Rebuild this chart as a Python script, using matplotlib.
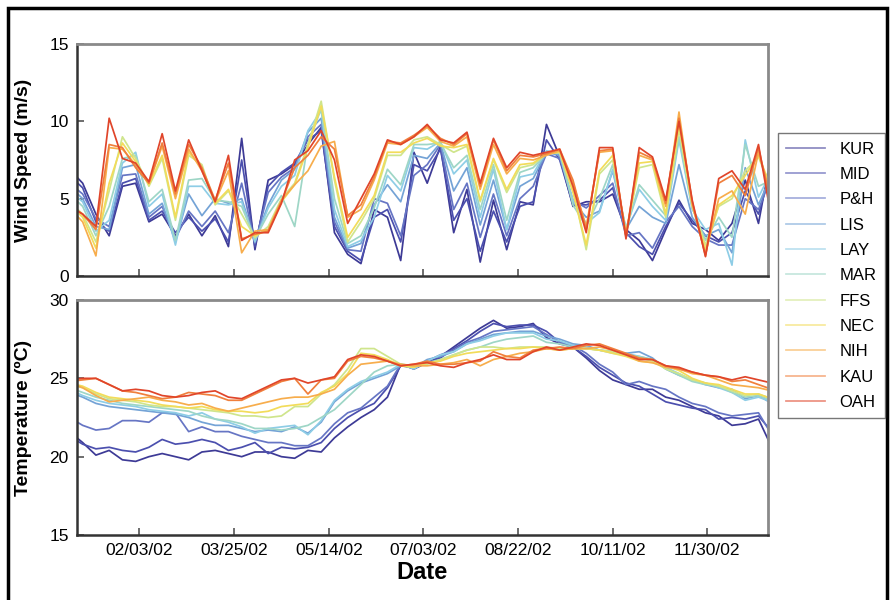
import numpy as np
import pandas as pd
import matplotlib
matplotlib.use("Agg")
import matplotlib.pyplot as plt
import matplotlib.dates as mdates
from matplotlib.patches import Rectangle

plt.rcParams['font.family'] = ['Liberation Sans', 'DejaVu Sans']

# weekly samples, Dec 28 2001 .. Jan 3 2003
dates = pd.date_range('2001-12-28', periods=54, freq='7D')

stations = ['KUR', 'MID', 'P&H', 'LIS', 'LAY', 'MAR', 'FFS', 'NEC', 'NIH', 'KAU', 'OAH']
colors = ['#3d3a96', '#4b4fae', '#6675c4', '#74a3d6', '#8ecde6', '#9ed6c6',
          '#cfe58c', '#f2dc5a', '#f7ad4c', '#f07f3c', '#e0452a']

# wind speed (m/s)
kur_wind = [6.9, 6.0, 4.0, 2.6, 5.8, 6.0, 3.5, 4.0, 2.6, 4.0, 2.6, 3.9, 1.9, 8.9, 1.7, 6.2, 6.6, 7.2, 8.5, 9.6, 2.8, 1.4, 0.8, 4.3, 3.8, 1.0, 8.0, 6.0, 8.4, 2.8, 5.6, 0.9, 4.9, 1.7, 4.8, 4.6, 9.8, 7.7, 4.5, 4.8, 4.8, 5.3, 3.0, 2.3, 1.0, 3.0, 4.9, 3.4, 3.0, 2.3, 3.4, 6.2, 3.4, 8.0]
mid_wind = [6.5, 5.7, 3.5, 2.9, 6.0, 6.3, 3.6, 4.2, 2.8, 3.8, 2.9, 3.7, 2.2, 7.5, 1.9, 5.8, 6.7, 7.3, 8.8, 9.4, 3.2, 1.6, 1.0, 3.8, 4.3, 2.2, 7.2, 6.8, 8.2, 3.6, 5.0, 1.6, 4.2, 2.2, 4.5, 4.8, 8.8, 7.5, 4.6, 4.6, 4.9, 5.7, 2.8, 1.9, 1.4, 3.2, 4.7, 3.6, 2.6, 2.2, 2.8, 5.5, 4.0, 7.0]
ph_wind = [6.0, 5.3, 3.7, 3.2, 6.5, 6.6, 3.8, 4.5, 2.4, 4.2, 3.2, 4.2, 2.8, 6.0, 2.1, 5.4, 6.4, 7.0, 9.0, 9.8, 3.5, 1.7, 1.6, 5.0, 4.7, 2.6, 6.5, 7.2, 8.5, 4.3, 6.0, 2.5, 5.3, 2.6, 5.0, 5.8, 7.9, 7.6, 4.9, 4.4, 5.2, 6.0, 2.6, 2.8, 1.8, 3.5, 4.5, 3.2, 2.4, 2.0, 2.0, 5.0, 4.3, 6.5]
lis_wind = [5.8, 5.0, 3.2, 3.0, 7.0, 7.2, 4.0, 4.7, 2.2, 5.3, 3.9, 5.0, 4.7, 5.0, 2.3, 4.6, 6.2, 6.9, 9.3, 10.2, 3.8, 1.8, 2.1, 4.6, 5.9, 4.8, 7.8, 7.6, 8.6, 5.5, 7.0, 3.3, 6.2, 3.0, 5.8, 6.3, 8.0, 7.8, 4.8, 3.8, 4.2, 6.8, 3.0, 4.5, 3.8, 3.4, 7.2, 3.8, 2.6, 3.0, 1.5, 7.0, 4.6, 6.6]
lay_wind = [5.5, 4.8, 2.9, 3.6, 7.3, 8.0, 4.5, 5.3, 2.0, 5.8, 5.8, 4.7, 4.6, 4.8, 2.2, 4.4, 5.8, 6.5, 9.4, 10.7, 4.3, 1.9, 2.3, 3.8, 6.5, 5.5, 8.3, 8.2, 8.7, 6.6, 7.5, 3.8, 6.9, 3.0, 6.4, 6.6, 8.1, 7.9, 4.9, 3.4, 4.1, 6.9, 3.1, 5.6, 4.5, 3.6, 8.8, 4.3, 3.0, 3.4, 0.7, 8.8, 5.1, 6.8]
mar_wind = [5.3, 4.5, 2.6, 4.5, 7.6, 7.8, 4.8, 5.6, 2.3, 6.2, 6.3, 4.9, 4.8, 4.5, 2.4, 4.0, 5.2, 3.2, 8.6, 10.8, 5.0, 2.1, 2.6, 4.4, 6.9, 5.9, 8.5, 8.5, 8.6, 7.0, 7.8, 4.3, 7.2, 3.6, 6.7, 7.0, 7.9, 8.0, 4.6, 3.2, 5.0, 7.2, 3.0, 5.9, 4.9, 3.9, 9.0, 4.4, 2.3, 3.8, 2.5, 8.5, 5.8, 6.2]
ffs_wind = [4.8, 4.0, 2.2, 5.5, 9.0, 7.6, 5.8, 7.6, 3.6, 7.8, 7.2, 4.6, 5.5, 4.0, 2.5, 3.2, 5.0, 6.0, 8.5, 11.3, 6.2, 2.2, 3.5, 5.0, 7.8, 7.8, 8.8, 9.0, 8.5, 8.0, 8.4, 4.8, 7.5, 5.4, 7.0, 7.2, 7.9, 8.0, 5.6, 1.7, 6.6, 7.5, 2.8, 7.0, 7.2, 3.8, 9.5, 4.5, 2.0, 4.5, 5.0, 6.8, 7.7, 5.5]
nec_wind = [4.6, 3.8, 1.8, 6.0, 8.6, 7.4, 5.9, 7.8, 3.8, 8.0, 7.0, 4.7, 5.6, 3.2, 2.6, 3.0, 4.8, 5.9, 8.3, 11.0, 6.4, 2.5, 3.8, 5.2, 8.0, 8.0, 8.6, 8.9, 8.4, 8.3, 8.5, 4.9, 7.6, 5.6, 7.2, 7.3, 7.9, 8.0, 5.4, 2.0, 6.8, 7.8, 2.7, 7.3, 7.4, 4.0, 9.8, 4.6, 1.7, 4.6, 5.2, 6.5, 7.8, 5.6]
nih_wind = [4.4, 3.5, 1.3, 8.3, 8.2, 7.2, 6.0, 8.4, 5.0, 8.2, 6.8, 4.8, 6.8, 1.5, 2.9, 3.0, 4.9, 5.9, 6.8, 8.4, 8.7, 3.8, 4.3, 6.2, 8.6, 8.5, 9.0, 9.6, 8.7, 8.4, 9.0, 5.6, 8.5, 6.6, 7.6, 7.5, 7.8, 8.1, 6.0, 3.2, 8.0, 8.1, 2.5, 7.8, 7.5, 4.5, 10.6, 4.6, 1.4, 5.0, 5.5, 4.0, 8.0, 5.0]
kau_wind = [4.6, 4.0, 3.0, 8.5, 8.3, 7.0, 6.0, 8.6, 5.3, 8.5, 7.0, 4.9, 7.3, 2.4, 2.7, 2.9, 4.8, 7.0, 7.8, 9.0, 8.2, 3.9, 4.6, 6.4, 8.7, 8.6, 9.1, 9.7, 8.9, 8.5, 9.2, 5.8, 8.8, 6.8, 7.8, 7.7, 7.9, 8.2, 6.2, 3.0, 8.1, 8.2, 2.6, 8.0, 7.6, 4.7, 10.2, 4.8, 1.3, 6.0, 6.5, 5.2, 8.3, 4.5]
oah_wind = [4.5, 4.0, 3.2, 10.2, 7.6, 7.3, 6.1, 9.2, 5.5, 8.8, 6.8, 4.8, 7.8, 2.3, 2.8, 2.8, 4.7, 7.5, 8.1, 9.4, 7.5, 3.4, 5.0, 6.6, 8.8, 8.5, 9.0, 9.8, 8.8, 8.6, 9.3, 6.0, 8.9, 7.0, 8.0, 7.8, 8.0, 8.2, 5.8, 2.8, 8.3, 8.3, 2.4, 8.3, 7.7, 4.9, 10.0, 4.9, 1.25, 6.3, 6.8, 5.6, 8.5, 3.6]

# temperature (deg C)
kur_temp = [21.6, 20.9, 20.1, 20.4, 19.8, 19.7, 20.0, 20.2, 20.0, 19.8, 20.3, 20.4, 20.2, 20.0, 20.3, 20.3, 20.0, 19.9, 20.4, 20.3, 21.2, 21.9, 22.5, 23.0, 23.8, 25.9, 25.6, 26.0, 26.4, 27.0, 27.6, 28.2, 28.7, 28.2, 28.3, 28.5, 27.6, 27.2, 27.0, 26.3, 25.5, 24.9, 24.6, 24.3, 24.3, 23.8, 23.6, 23.2, 22.8, 22.6, 22.0, 22.1, 22.4, 20.6]
mid_temp = [21.3, 20.8, 20.5, 20.6, 20.4, 20.3, 20.6, 21.1, 20.8, 20.9, 21.1, 20.9, 20.4, 20.6, 20.9, 20.2, 20.6, 20.5, 20.6, 20.9, 21.8, 22.5, 23.0, 23.4, 24.4, 25.8, 25.7, 26.0, 26.3, 26.9, 27.4, 28.0, 28.5, 28.3, 28.4, 28.4, 28.0, 27.3, 27.0, 26.4, 25.7, 25.2, 24.7, 24.5, 24.0, 23.5, 23.3, 23.1, 23.0, 22.4, 22.5, 22.4, 22.6, 21.6]
ph_temp = [22.5, 22.0, 21.7, 21.8, 22.3, 22.3, 22.2, 22.8, 22.8, 21.6, 21.9, 21.6, 21.6, 21.3, 21.1, 20.9, 20.9, 20.7, 20.7, 21.2, 22.1, 22.8, 23.1, 23.8, 24.5, 25.9, 25.6, 26.1, 26.5, 26.8, 27.3, 27.6, 28.0, 28.1, 28.2, 28.3, 27.8, 27.3, 27.1, 26.6, 25.9, 25.4, 24.6, 24.8, 24.5, 24.3, 23.8, 23.4, 23.2, 22.8, 22.6, 22.7, 22.8, 21.4]
lis_temp = [24.1, 23.8, 23.4, 23.2, 23.1, 23.0, 22.9, 22.8, 22.7, 22.5, 22.2, 22.0, 22.0, 21.8, 21.6, 21.7, 21.6, 21.9, 21.5, 22.2, 23.5, 24.2, 24.7, 25.0, 25.3, 25.8, 25.7, 26.2, 26.4, 26.7, 27.2, 27.5, 27.8, 27.9, 28.0, 28.0, 27.7, 27.5, 27.2, 27.1, 26.8, 26.7, 26.6, 26.7, 26.3, 25.6, 25.2, 24.9, 24.6, 24.4, 24.3, 23.7, 23.9, 23.4]
lay_temp = [24.3, 23.9, 23.6, 23.4, 23.3, 23.2, 23.0, 22.9, 22.8, 22.6, 22.8, 22.4, 22.2, 21.9, 21.5, 21.8, 21.9, 22.0, 21.4, 22.3, 23.6, 24.3, 24.8, 25.1, 25.4, 25.9, 25.6, 26.1, 26.5, 26.7, 27.2, 27.4, 27.7, 27.9, 27.9, 27.9, 27.5, 27.4, 27.1, 27.0, 26.8, 26.7, 26.6, 26.4, 26.2, 25.7, 25.3, 24.9, 24.7, 24.4, 24.1, 23.6, 23.8, 23.5]
mar_temp = [24.4, 24.1, 23.8, 23.6, 23.4, 23.3, 23.2, 23.1, 23.0, 22.9, 22.6, 22.4, 22.3, 22.1, 21.8, 21.8, 21.7, 21.8, 22.0, 22.5, 23.0, 23.8, 24.6, 25.4, 25.8, 25.9, 25.8, 26.0, 26.2, 26.5, 26.8, 27.0, 27.3, 27.5, 27.6, 27.7, 27.3, 27.2, 27.0, 26.9, 26.8, 26.6, 26.5, 26.4, 26.2, 25.6, 25.2, 24.8, 24.6, 24.5, 24.1, 23.8, 23.9, 23.6]
ffs_temp = [24.6, 24.4, 24.0, 23.7, 23.6, 23.5, 23.3, 23.2, 23.2, 23.1, 23.0, 22.9, 22.8, 22.6, 22.6, 22.5, 22.6, 23.2, 23.2, 24.0, 24.6, 25.6, 26.9, 26.9, 26.4, 25.9, 25.8, 25.9, 26.2, 26.5, 26.8, 27.0, 27.0, 26.9, 27.0, 27.0, 27.0, 26.9, 26.9, 26.9, 26.8, 26.7, 26.5, 26.3, 26.1, 25.6, 25.3, 24.9, 24.7, 24.5, 24.2, 23.9, 24.0, 23.7]
nec_temp = [24.7, 24.5, 24.1, 23.8, 23.7, 23.6, 23.5, 23.3, 23.2, 23.1, 23.2, 23.0, 22.9, 22.9, 22.8, 22.9, 23.2, 23.3, 23.4, 24.1, 24.5, 25.3, 26.6, 26.5, 26.2, 25.8, 25.7, 26.0, 26.1, 26.4, 26.6, 26.7, 26.8, 26.9, 26.9, 27.0, 26.9, 26.8, 26.9, 26.9, 26.8, 26.6, 26.4, 26.1, 26.0, 25.8, 25.5, 25.0, 24.7, 24.6, 24.3, 24.0, 24.0, 23.7]
nih_temp = [24.7, 24.4, 23.9, 23.5, 23.6, 23.7, 23.8, 23.6, 23.5, 23.3, 23.4, 23.1, 22.9, 23.1, 23.3, 23.5, 23.7, 23.8, 23.8, 24.0, 24.3, 25.2, 25.9, 26.0, 26.1, 25.9, 25.8, 25.8, 25.9, 26.0, 26.2, 25.8, 26.2, 26.4, 26.6, 26.7, 26.9, 26.8, 26.9, 26.9, 27.0, 26.8, 26.5, 26.1, 26.0, 25.7, 25.6, 25.3, 25.2, 24.9, 24.6, 24.5, 24.4, 24.2]
kau_temp = [24.8, 24.9, 25.0, 24.6, 24.2, 24.1, 23.9, 23.7, 23.8, 24.1, 24.0, 23.9, 23.6, 23.6, 24.0, 24.4, 24.8, 25.0, 24.0, 24.9, 25.0, 26.1, 26.4, 26.3, 26.1, 25.8, 25.9, 26.1, 25.9, 25.9, 26.0, 26.1, 26.7, 26.4, 26.3, 26.8, 26.9, 27.0, 26.9, 27.1, 27.2, 26.9, 26.6, 26.3, 26.2, 25.8, 25.6, 25.4, 25.2, 25.1, 24.8, 24.9, 24.6, 24.3]
oah_temp = [24.9, 25.0, 25.0, 24.6, 24.2, 24.3, 24.2, 23.9, 23.8, 23.9, 24.1, 24.2, 23.8, 23.7, 24.1, 24.5, 24.9, 25.0, 24.7, 24.9, 25.1, 26.2, 26.5, 26.4, 26.1, 25.8, 25.9, 26.0, 25.8, 25.7, 26.0, 26.2, 26.5, 26.2, 26.2, 26.7, 27.0, 26.8, 27.0, 27.2, 27.1, 26.8, 26.5, 26.2, 26.2, 25.8, 25.7, 25.4, 25.2, 25.1, 24.9, 25.1, 24.9, 24.7]

wind = [kur_wind, mid_wind, ph_wind, lis_wind, lay_wind, mar_wind,
        ffs_wind, nec_wind, nih_wind, kau_wind, oah_wind]
temp = [kur_temp, mid_temp, ph_temp, lis_temp, lay_temp, mar_temp,
        ffs_temp, nec_temp, nih_temp, kau_temp, oah_temp]

tick_dates = pd.to_datetime(['2002-02-03', '2002-03-25', '2002-05-14', '2002-07-03',
                             '2002-08-22', '2002-10-11', '2002-11-30'])

fig = plt.figure(figsize=(8.91, 6.0), dpi=100)
ax1 = fig.add_axes([0.0864, 0.54, 0.7755, 0.3867])
ax2 = fig.add_axes([0.0864, 0.1083, 0.7755, 0.3917])

for i, name in enumerate(stations):
    ax1.plot(dates, wind[i], color=colors[i], lw=1.25, label=name)
    ax2.plot(dates, temp[i], color=colors[i], lw=1.25)

for ax in (ax1, ax2):
    ax.set_xlim(pd.Timestamp('2002-01-01'), pd.Timestamp('2003-01-01'))
    ax.set_xticks(tick_dates)
    ax.xaxis.set_major_formatter(mdates.DateFormatter('%m/%d/%y'))
    ax.tick_params(direction='in', length=5, width=1.2, color='#555555',
                   labelsize=12.5, pad=6)
    for s in ('top', 'right'):
        ax.spines[s].set_color('#8a8a8a')
        ax.spines[s].set_linewidth(2)
    for s in ('left', 'bottom'):
        ax.spines[s].set_color('#333333')
        ax.spines[s].set_linewidth(1.8)

ax1.set_ylim(0, 15)
ax1.set_yticks([0, 5, 10, 15])
ax1.tick_params(axis='x', labelbottom=False)
ax1.set_ylabel('Wind Speed (m/s)', fontsize=14, fontweight='bold', labelpad=12)

ax2.set_ylim(15, 30)
ax2.set_yticks([15, 20, 25, 30])
ax2.set_ylabel('Temperature (ºC)', fontsize=14, fontweight='bold', labelpad=12)
ax2.set_xlabel('Date', fontsize=17, fontweight='bold', labelpad=2)

leg = fig.legend(*ax1.get_legend_handles_labels(), loc='upper left',
                 bbox_to_anchor=(0.873, 0.778), fontsize=12, frameon=True,
                 fancybox=False, edgecolor='#555555', handlelength=2.3,
                 labelspacing=0.62, borderpad=0.5, handletextpad=0.9,
                 borderaxespad=0)
for h in leg.legend_handles:
    h.set_alpha(0.6)

fig.add_artist(Rectangle((0.009, -0.02), 0.986, 1.0067, transform=fig.transFigure,
                         fill=False, lw=2.5, color='black'))

fig.savefig('out.png', dpi=100, facecolor='white')
